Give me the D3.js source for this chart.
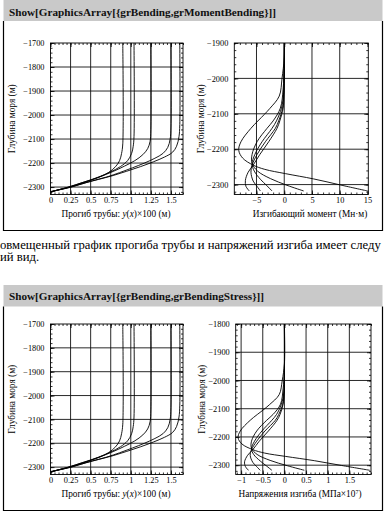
<!DOCTYPE html>
<html>
<head>
<meta charset="utf-8">
<script src="https://cdn.jsdelivr.net/npm/d3@7"></script>
<style>
  body { margin: 0; background: #fff; }
  svg text { font-family: "Liberation Serif", "DejaVu Serif", serif; }
</style>
</head>
<body>
<svg width="388" height="512"></svg>
<script>
// ---- data ----
const headerTop = "Show[GraphicsArray[{grBending,grMomentBending}]]";
const headerBottom = "Show[GraphicsArray[{grBending,grBendingStress}]]";
const paraLines = ["овмещенный график прогиба трубы и напряжений изгиба имеет следу", "ий вид."];

// deflection curves: [y(x)*100, depth]
const bendA = [[0.90,-1700],[0.90,-2120],[0.885,-2160],[0.86,-2190],[0.81,-2215],[0.72,-2240],[0.58,-2262],[0.40,-2281],[0.22,-2300],[0.08,-2313],[0,-2320]];
const bendB = [[1.04,-1700],[1.04,-2090],[1.03,-2130],[1.01,-2160],[0.96,-2190],[0.87,-2215],[0.74,-2238],[0.60,-2258],[0.42,-2279],[0.23,-2300],[0.08,-2313],[0,-2320]];
const bendC = [[1.25,-1700],[1.25,-2060],[1.24,-2110],[1.21,-2140],[1.15,-2165],[1.05,-2190],[0.92,-2213],[0.78,-2235],[0.61,-2258],[0.44,-2279],[0.24,-2300],[0.08,-2313],[0,-2320]];
const bendE = [[1.50,-1700],[1.50,-2050],[1.49,-2100],[1.46,-2135],[1.40,-2160],[1.30,-2180],[1.17,-2200],[1.02,-2220],[0.86,-2240],[0.70,-2258],[0.52,-2274],[0.25,-2300],[0.09,-2313],[0,-2320]];
const bendD = [[1.61,-1700],[1.61,-2040],[1.60,-2090],[1.57,-2130],[1.52,-2155],[1.42,-2175],[1.28,-2195],[1.12,-2215],[0.95,-2234],[0.78,-2252],[0.60,-2268],[0.44,-2282],[0.26,-2300],[0.09,-2313],[0,-2320]];

// bending moment curves: [moment, depth]
const momA = [[0,-1800],[0,-1940],[-0.4,-2000],[-0.9,-2050],[-2.6,-2085],[-3.6,-2102],[-6.0,-2141],[-7.8,-2179],[-8.2,-2203],[-7.5,-2225],[-5.6,-2245],[-3.5,-2257],[0.2,-2269],[5.3,-2284],[10.1,-2301],[15,-2318]];
const momB = [[0,-1800],[0,-1960],[-0.2,-2030],[-0.7,-2084],[-2.0,-2120],[-3.1,-2141],[-4.9,-2179],[-5.8,-2215],[-5.8,-2240],[-4.8,-2262],[-2.5,-2283],[0.5,-2302],[3.5,-2318]];
const momC = [[0,-1800],[0,-1970],[-0.1,-2040],[-0.5,-2084],[-1.4,-2120],[-2.2,-2141],[-4.0,-2179],[-5.3,-2215],[-5.8,-2242],[-5.4,-2262],[-4.3,-2285],[-3.2,-2302],[-2.2,-2318]];
const momE = [[0,-1800],[0,-1975],[-0.1,-2045],[-0.3,-2084],[-1.0,-2120],[-1.6,-2141],[-3.4,-2179],[-4.9,-2215],[-5.8,-2245],[-6.0,-2265],[-5.6,-2290],[-4.9,-2305],[-4.3,-2318]];
const momD = [[0,-1800],[0,-1980],[-0.05,-2050],[-0.2,-2084],[-0.8,-2120],[-1.3,-2141],[-2.8,-2179],[-4.4,-2215],[-5.6,-2245],[-6.5,-2265],[-7.0,-2288],[-6.9,-2305],[-6.3,-2318]];

// bending stress curves: [stress, depth]
const strA = [[0,-1800],[0,-1940],[-0.05,-2000],[-0.12,-2050],[-0.34,-2085],[-0.47,-2102],[-0.79,-2141],[-1.02,-2179],[-1.07,-2203],[-0.98,-2225],[-0.73,-2245],[-0.46,-2257],[0.03,-2269],[0.69,-2284],[1.32,-2301],[1.97,-2318]];
const strB = [[0,-1800],[0,-1960],[-0.03,-2030],[-0.09,-2084],[-0.26,-2120],[-0.41,-2141],[-0.64,-2179],[-0.76,-2215],[-0.76,-2240],[-0.63,-2262],[-0.33,-2283],[0.07,-2302],[0.46,-2318]];
const strC = [[0,-1800],[0,-1970],[-0.01,-2040],[-0.07,-2084],[-0.18,-2120],[-0.29,-2141],[-0.52,-2179],[-0.69,-2215],[-0.76,-2242],[-0.71,-2262],[-0.56,-2285],[-0.42,-2302],[-0.29,-2318]];
const strE = [[0,-1800],[0,-1975],[-0.01,-2045],[-0.04,-2084],[-0.13,-2120],[-0.21,-2141],[-0.45,-2179],[-0.64,-2215],[-0.76,-2245],[-0.79,-2265],[-0.73,-2290],[-0.64,-2305],[-0.56,-2318]];
const strD = [[0,-1800],[0,-1980],[-0.01,-2050],[-0.03,-2084],[-0.10,-2120],[-0.17,-2141],[-0.37,-2179],[-0.58,-2215],[-0.73,-2245],[-0.85,-2265],[-0.92,-2288],[-0.90,-2305],[-0.83,-2318]];

// ticks and labels
const deflTicks = [0, 0.25, 0.5, 0.75, 1, 1.25, 1.5];
const deflLabels = ["0", "0.25", "0.5", "0.75", "1", "1.25", "1.5"];
const momTicks = [-5, 0, 5, 10, 15];
const momLabels = ["\u22125", "0", "5", "10", "15"];
const strTicks = [-1, -0.5, 0, 0.5, 1, 1.5];
const strLabels = ["\u22121", "\u22120.5", "0", "0.5", "1", "1.5"];
const depthTicksA = [-2300, -2200, -2100, -2000, -1900, -1800, -1700];
const depthTicksB = [-2300, -2200, -2100, -2000, -1900];
const depthTicksC = [-2300, -2200, -2100, -2000, -1900, -1800];

const FONT = "Liberation Serif, DejaVu Serif, serif";
const svg = d3.select("svg");

function box(top, headerH, bottom, title, baseline) {
  svg.append("rect").attr("x", 3.5).attr("y", top).attr("width", 379).attr("height", headerH)
    .attr("fill", "#c9c9c9");
  svg.append("path")
    .attr("d", `M3.5,${top + headerH}V${bottom}H382.5V${top + headerH}`)
    .attr("fill", "none").attr("stroke", "#000").attr("stroke-width", 1.2);
  svg.append("text").attr("x", 9).attr("y", baseline)
    .attr("font-family", FONT).attr("font-size", 11.2).attr("font-weight", "bold").attr("fill", "#111")
    .text(title);
}

function ticksRange(a, b, step) {
  return d3.range(Math.round(a / step), Math.round(b / step) + 1).map(i => +(i * step).toFixed(6));
}

function panel(o) {
  const x = d3.scaleLinear().domain(o.xDomain).range([o.left, o.right]);
  const y = d3.scaleLinear().domain(o.yDomain).range([o.bottom, o.top]);
  const g = svg.append("g");
  const id = "clip" + Math.round(o.left) + "_" + Math.round(o.top);
  svg.append("clipPath").attr("id", id).append("rect")
    .attr("x", o.left).attr("y", o.top).attr("width", o.right - o.left).attr("height", o.bottom - o.top);

  // grid
  g.append("g").selectAll("line").data(o.xTicks.filter(v => x(v) > o.left + 1 && x(v) < o.right - 1)).join("line")
    .attr("x1", d => x(d)).attr("x2", d => x(d)).attr("y1", o.top).attr("y2", o.bottom)
    .attr("stroke", "#111").attr("stroke-width", 0.9);
  g.append("g").selectAll("line").data(o.yTicks.filter(v => y(v) > o.top + 1 && y(v) < o.bottom - 1)).join("line")
    .attr("y1", d => y(d)).attr("y2", d => y(d)).attr("x1", o.left).attr("x2", o.right)
    .attr("stroke", "#111").attr("stroke-width", 0.9);

  // curves
  const line = d3.line().x(d => x(d[0])).y(d => y(d[1])).curve(d3.curveCatmullRom);
  g.append("g").attr("clip-path", `url(#${id})`).selectAll("path").data(o.curves).join("path")
    .attr("d", line).attr("fill", "none").attr("stroke", "#000").attr("stroke-width", 0.9);

  // frame
  g.append("rect").attr("x", o.left).attr("y", o.top).attr("width", o.right - o.left).attr("height", o.bottom - o.top)
    .attr("fill", "none").attr("stroke", "#000").attr("stroke-width", 0.9);

  const xMinor = ticksRange(o.xDomain[0], o.xDomain[1], o.xMinor).filter(v => v >= o.xDomain[0] && v <= o.xDomain[1]);
  const yMinor = ticksRange(o.yDomain[0], o.yDomain[1], 20).filter(v => v >= o.yDomain[0] && v <= o.yDomain[1]);
  const clean = s => s.call(a => a.select(".domain").remove())
    .attr("font-family", FONT).attr("font-size", 8.3)
    .call(a => a.selectAll("line").attr("stroke-width", 0.8));

  // bottom / top
  g.append("g").attr("transform", `translate(0,${o.bottom})`)
    .call(d3.axisBottom(x).tickValues(o.xTicks).tickSize(-4).tickPadding(3).tickFormat((d, i) => o.xLabels[i])).call(clean);
  g.append("g").attr("transform", `translate(0,${o.bottom})`)
    .call(d3.axisBottom(x).tickValues(xMinor).tickSize(-2).tickFormat("")).call(clean);
  g.append("g").attr("transform", `translate(0,${o.top})`)
    .call(d3.axisTop(x).tickValues(o.xTicks).tickSize(-4).tickFormat("")).call(clean);
  g.append("g").attr("transform", `translate(0,${o.top})`)
    .call(d3.axisTop(x).tickValues(xMinor).tickSize(-2).tickFormat("")).call(clean);
  // left / right
  g.append("g").attr("transform", `translate(${o.left},0)`)
    .call(d3.axisLeft(y).tickValues(o.yTicks).tickSize(-4).tickPadding(6)
      .tickFormat(d => d < 0 ? "\u2212" + Math.abs(d) : d)).call(clean);
  g.append("g").attr("transform", `translate(${o.left},0)`)
    .call(d3.axisLeft(y).tickValues(yMinor).tickSize(-2).tickFormat("")).call(clean);
  g.append("g").attr("transform", `translate(${o.right},0)`)
    .call(d3.axisRight(y).tickValues(o.yTicks).tickSize(-4).tickFormat("")).call(clean);
  g.append("g").attr("transform", `translate(${o.right},0)`)
    .call(d3.axisRight(y).tickValues(yMinor).tickSize(-2).tickFormat("")).call(clean);

  // y title
  g.append("text").attr("transform", `translate(${o.yTitleX},${(o.top + o.bottom) / 2}) rotate(-90)`)
    .attr("text-anchor", "middle").attr("font-family", FONT).attr("font-size", 9.3).text("Глубина моря (м)");
  // x title
  const t = g.append("text").attr("x", o.xTitleX).attr("y", o.bottom + 22.5)
    .attr("text-anchor", "middle").attr("font-family", FONT).attr("font-size", 9.3);
  o.xTitle(t);
}

function deflTitle(t) {
  t.append("tspan").text("Прогиб трубы: ");
  t.append("tspan").attr("font-style", "italic").text("y");
  t.append("tspan").text("(");
  t.append("tspan").attr("font-style", "italic").text("x");
  t.append("tspan").text(")\u00d7100 (м)");
}

box(-2, 23, 230.5, headerTop, 16);
box(285, 21.5, 510.5, headerBottom, 299.5);

svg.selectAll(".para").data(paraLines).join("text").attr("class", "para")
  .attr("x", 0).attr("y", (d, i) => 249 + i * 12).attr("font-family", FONT).attr("font-size", 12.7).text(d => d);

const bendCurves = [bendA, bendB, bendC, bendE, bendD];

panel({ left: 50.5, right: 183, top: 43, bottom: 194.5, xDomain: [0, 1.65], yDomain: [-2331, -1700],
  xTicks: deflTicks, xLabels: deflLabels, xMinor: 0.05, yTicks: depthTicksA, curves: bendCurves,
  yTitleX: 15, xTitleX: 116, xTitle: deflTitle });

panel({ left: 234.3, right: 368.3, top: 43, bottom: 194.5, xDomain: [-9.0, 15.15], yDomain: [-2328, -1900],
  xTicks: momTicks, xLabels: momLabels, xMinor: 1, yTicks: depthTicksB, curves: [momA, momB, momC, momE, momD],
  yTitleX: 204, xTitleX: 310, xTitle: t => t.text("Изгибающий момент (Мн\u00b7м)") });

panel({ left: 50.5, right: 183, top: 324, bottom: 474.5, xDomain: [0, 1.65], yDomain: [-2331, -1700],
  xTicks: deflTicks, xLabels: deflLabels, xMinor: 0.05, yTicks: depthTicksA, curves: bendCurves,
  yTitleX: 15, xTitleX: 116, xTitle: deflTitle });

panel({ left: 235.7, right: 371, top: 324, bottom: 474.5, xDomain: [-1.125, 2.0], yDomain: [-2333, -1800],
  xTicks: strTicks, xLabels: strLabels, xMinor: 0.1, yTicks: depthTicksC, curves: [strA, strB, strC, strE, strD],
  yTitleX: 205, xTitleX: 300, xTitle: t => {
    t.append("tspan").text("Напряжения изгиба (МПа\u00d710");
    t.append("tspan").attr("font-size", 6).attr("dy", -3.5).text("7");
    t.append("tspan").attr("dy", 3.5).text(")");
  } });
</script>
</body>
</html>
